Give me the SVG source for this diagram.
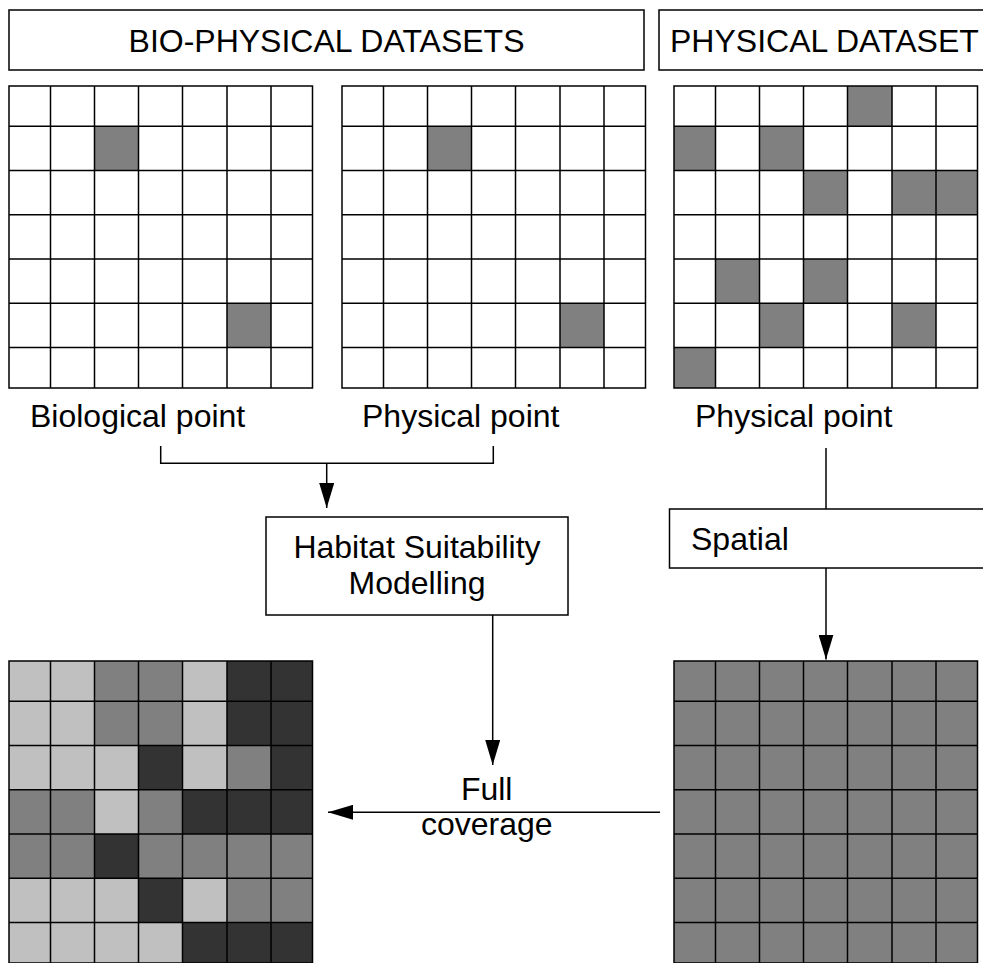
<svg xmlns="http://www.w3.org/2000/svg" xmlns:xlink="http://www.w3.org/1999/xlink" width="983" height="963" viewBox="0 0 983 963">
  <style>
    text { font-family: "Liberation Sans", Arial, sans-serif; font-size: 32px; fill: #000; }
    .box { fill: #fff; stroke: #000; stroke-width: 1.5; }
    .grid { fill: none; stroke: #000; stroke-width: 1.5; }
    .l { fill: #c0c0c0; }
    .m { fill: #808080; }
    .d { fill: #333333; }
    .wire { fill: none; stroke: #000; stroke-width: 1.5; }
  </style>
  <defs>
    <!-- 7x7 raster outline; outer rows/columns are slightly narrower -->
    <path id="gridlines" class="grid" d="M0,0 H303.5 V302 H0 Z
      M41.5,0 V302 M85.5,0 V302 M129.5,0 V302 M173.5,0 V302 M218,0 V302 M262,0 V302
      M0,40.3 H303.5 M0,84.5 H303.5 M0,128.8 H303.5 M0,173 H303.5 M0,217.3 H303.5 M0,261.5 H303.5"/>
    <marker id="arrow" markerUnits="userSpaceOnUse" markerWidth="25" markerHeight="15" refX="25" refY="7.5" orient="auto">
      <path d="M0,0 L25,7.5 L0,15 Z" fill="#000"/>
    </marker>
  </defs>

  <rect width="983" height="963" fill="#fff"/>

  <!-- headers -->
  <g id="header-biophysical">
    <rect class="box" x="9" y="10" width="635" height="60"/>
    <text x="326.5" y="52" text-anchor="middle">BIO-PHYSICAL DATASETS</text>
  </g>
  <g id="header-physical">
    <rect class="box" x="659" y="10" width="340" height="60"/>
    <text x="670" y="52">PHYSICAL DATASET</text>
  </g>

  <!-- biological point raster -->
  <g id="grid-biological" transform="translate(9,86)">
    <rect x="0" y="0" width="303.5" height="302" fill="#fff"/>
    <rect class="m" x="85.5" y="40.3" width="44" height="44.2"/>
    <rect class="m" x="218" y="217.3" width="44" height="44.2"/>
    <use xlink:href="#gridlines"/>
  </g>
  <text x="30" y="427">Biological point</text>

  <!-- physical point raster (bio-physical) -->
  <g id="grid-physical-a" transform="translate(342,86)">
    <rect x="0" y="0" width="303.5" height="302" fill="#fff"/>
    <rect class="m" x="85.5" y="40.3" width="44" height="44.2"/>
    <rect class="m" x="218" y="217.3" width="44" height="44.2"/>
    <use xlink:href="#gridlines"/>
  </g>
  <text x="362" y="427">Physical point</text>

  <!-- physical point raster (physical dataset) -->
  <g id="grid-physical-b" transform="translate(674,86)">
    <rect x="0" y="0" width="303.5" height="302" fill="#fff"/>
    <rect class="m" x="173.5" y="0" width="44.5" height="40.3"/>
    <rect class="m" x="0" y="40.3" width="41.5" height="44.2"/>
    <rect class="m" x="85.5" y="40.3" width="44" height="44.2"/>
    <rect class="m" x="129.5" y="84.5" width="44" height="44.3"/>
    <rect class="m" x="218" y="84.5" width="85.5" height="44.3"/>
    <rect class="m" x="41.5" y="173" width="44" height="44.3"/>
    <rect class="m" x="129.5" y="173" width="44" height="44.3"/>
    <rect class="m" x="85.5" y="217.3" width="44" height="44.2"/>
    <rect class="m" x="218" y="217.3" width="44" height="44.2"/>
    <rect class="m" x="0" y="261.5" width="41.5" height="40.5"/>
    <use xlink:href="#gridlines"/>
  </g>
  <text x="695" y="427">Physical point</text>

  <!-- process boxes -->
  <g id="habitat-modelling">
    <rect class="box" x="266" y="517" width="302" height="98"/>
    <text x="417" y="558" text-anchor="middle">Habitat Suitability</text>
    <text x="417" y="594" text-anchor="middle">Modelling</text>
  </g>
  <g id="spatial">
    <rect class="box" x="669.5" y="509" width="330" height="59"/>
    <text x="691" y="550">Spatial</text>
  </g>

  <!-- resulting suitability raster -->
  <g id="grid-suitability" transform="translate(9,661)">
    <rect class="l" x="0" y="0" width="303.5" height="302"/>
    <rect class="m" x="85.5" y="0" width="88" height="84.5"/>
    <rect class="d" x="218" y="0" width="85.5" height="84.5"/>
    <rect class="d" x="262" y="0" width="41.5" height="173"/>
    <rect class="d" x="129.5" y="84.5" width="44" height="44.3"/>
    <rect class="m" x="218" y="84.5" width="44" height="44.3"/>
    <rect class="m" x="0" y="128.8" width="85.5" height="88.5"/>
    <rect class="m" x="129.5" y="128.8" width="44" height="88.5"/>
    <rect class="d" x="173.5" y="128.8" width="88.5" height="44.2"/>
    <rect class="d" x="85.5" y="173" width="44" height="44.3"/>
    <rect class="m" x="173.5" y="173" width="130" height="44.3"/>
    <rect class="d" x="129.5" y="217.3" width="44" height="44.2"/>
    <rect class="m" x="218" y="217.3" width="85.5" height="44.2"/>
    <rect class="d" x="173.5" y="261.5" width="130" height="40.5"/>
    <use xlink:href="#gridlines"/>
  </g>

  <!-- interpolated physical raster -->
  <g id="grid-interpolated" transform="translate(674,661)">
    <rect class="m" x="0" y="0" width="303.5" height="302"/>
    <use xlink:href="#gridlines"/>
  </g>

  <g id="full-coverage-label">
    <text x="486.7" y="800" text-anchor="middle">Full</text>
    <text x="486.7" y="835" text-anchor="middle">coverage</text>
  </g>

  <!-- connectors -->
  <g id="connectors">
    <path class="wire" d="M160.7,446 V463.3 H493.3 V446"/>
    <path class="wire" d="M326.7,463.3 V508" marker-end="url(#arrow)"/>
    <path class="wire" d="M492.7,615 V765" marker-end="url(#arrow)"/>
    <path class="wire" d="M660,812.3 H328" marker-end="url(#arrow)"/>
    <path class="wire" d="M826,448 V509"/>
    <path class="wire" d="M826,568 V659.5" marker-end="url(#arrow)"/>
  </g>
</svg>
